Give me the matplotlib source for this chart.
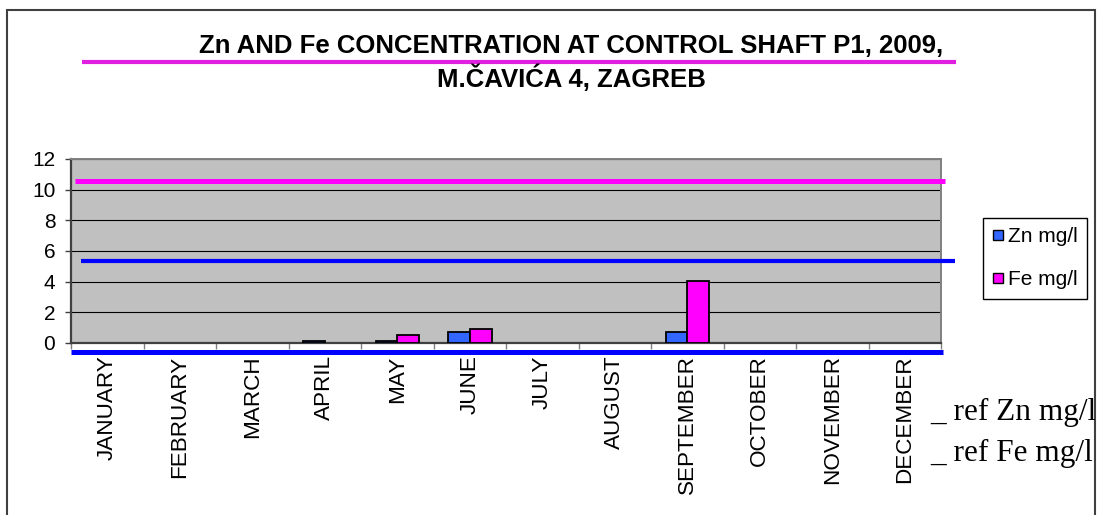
import matplotlib
matplotlib.use('Agg')
import matplotlib.pyplot as plt
from matplotlib.lines import Line2D
from matplotlib.patches import Rectangle
from matplotlib.transforms import Bbox, TransformedBbox
import numpy as np

# ---- data ----
months = ['JANUARY', 'FEBRUARY', 'MARCH', 'APRIL', 'MAY', 'JUNE', 'JULY',
          'AUGUST', 'SEPTEMBER', 'OCTOBER', 'NOVEMBER', 'DECEMBER']
zn = [0, 0, 0, 0.1, 0.1, 0.75, 0, 0, 0.75, 0, 0, 0]
fe = [0, 0, 0, 0, 0.55, 0.9, 0, 0, 4.05, 0, 0, 0]
ref_zn = 5.37
ref_fe = 10.55
y_ticks = [0, 2, 4, 6, 8, 10, 12]
title1 = 'Zn AND Fe CONCENTRATION AT CONTROL SHAFT P1, 2009,'
title2 = 'M.ČAVIĆA 4, ZAGREB'
series_labels = ['Zn mg/l', 'Fe mg/l']
ref_labels = ['_ ref Zn mg/l', '_ ref Fe mg/l']

plt.rcParams['font.family'] = ['Liberation Sans', 'DejaVu Sans']

W, H = 1099, 515
fig = plt.figure(figsize=(W / 100, H / 100), dpi=100)
fig.patch.set_facecolor('white')

ax_l, ax_r, ax_t, ax_b = 71, 941, 159, 343
ax = fig.add_axes([ax_l / W, 1 - ax_b / H, (ax_r - ax_l) / W, (ax_b - ax_t) / H])
ax.set_facecolor('#C0C0C0')

x = np.arange(len(months))
zn_a = np.array(zn)
fe_a = np.array(fe)
bw = 0.3
mz = zn_a > 0
mf = fe_a > 0
ax.bar(x[mz] - bw / 2, zn_a[mz], bw, color='#3366FF', edgecolor='black', lw=1.3, zorder=3)
ax.bar(x[mf] + bw / 2, fe_a[mf], bw, color='#FF00FF', edgecolor='black', lw=1.3, zorder=3)

ax.set_xlim(-0.5, len(months) - 0.5)
ax.set_ylim(0, 12)
ax.set_yticks(y_ticks)
ax.yaxis.grid(True, color='black', lw=0.8)
ax.set_axisbelow(True)

# spines
ax.spines['left'].set_color('#404040')
ax.spines['left'].set_linewidth(1.6)
ax.spines['bottom'].set_color('#404040')
ax.spines['bottom'].set_linewidth(1.6)
ax.spines['top'].set_color('#808080')
ax.spines['top'].set_linewidth(1.4)
ax.spines['right'].set_color('#808080')
ax.spines['right'].set_linewidth(1.4)

ax.tick_params(axis='y', direction='out', length=4.3, width=1, color='#404040',
               pad=7, labelsize=15)
ax.set_xticks(np.arange(-0.5, len(months), 1))
ax.set_xticklabels([])
ax.tick_params(axis='x', which='major', direction='out', length=4.3, width=1,
               color='#808080')
ax.set_xticks(x, minor=True)
ax.set_xticklabels(months, minor=True, rotation=90, fontsize=16.2, va='top', ha='center')
ax.tick_params(axis='x', which='minor', length=0, pad=9)

# reference lines
ax.axhline(ref_fe, xmin=4 / 870, xmax=874 / 870, color='#FF00FF', lw=3.6,
           clip_on=False, zorder=4, solid_capstyle='butt')
ax.axhline(ref_zn, xmin=10 / 870, xmax=884 / 870, color='#0000FF', lw=3.0,
           clip_on=False, zorder=4, solid_capstyle='butt')
ax.plot([0, 872 / 870], [-8.5 / 184, -8.5 / 184], transform=ax.transAxes,
        color='#0000FF', lw=3.6, clip_on=False, solid_capstyle='butt', zorder=4)

# title
fig.text(571 / W, 1 - 53 / H, title1, ha='center', va='baseline',
         fontsize=18.5, fontweight='bold')
fig.text(571 / W, 1 - 87 / H, title2, ha='center', va='baseline',
         fontsize=18.5, fontweight='bold')
fig.add_artist(Line2D([82 / W, 956 / W], [1 - 62 / H, 1 - 62 / H], color='#E020E0',
                      lw=3, solid_capstyle='butt'))

# figure border
fig.add_artist(Rectangle((7 / W, -0.05), (1095 - 7) / W, (515 - 10) / H + 0.05,
                         transform=fig.transFigure, fill=False,
                         edgecolor='#404040', lw=1.5))

# legend
handles = [Line2D([], [], marker='s', linestyle='none', markersize=6.5,
                  markerfacecolor=c, markeredgecolor='black', markeredgewidth=1)
           for c in ['#3366FF', '#FF00FF']]
leg = fig.legend(handles, series_labels, loc='upper left',
                 bbox_to_anchor=(983 / W, 1 - 218 / H), borderaxespad=0,
                 fontsize=15, frameon=True, fancybox=False, framealpha=1,
                 edgecolor='black', handlelength=0.5, handletextpad=0.25,
                 borderpad=0.45, labelspacing=1.15)
leg.get_frame().set_linewidth(1.0)

# reference texts
clip = TransformedBbox(Bbox([[0, 0], [1095 / W, 1]]), fig.transFigure)
for lbl, yb in zip(ref_labels, [420, 461]):
    t = fig.text(930 / W, 1 - yb / H, lbl, family='Liberation Serif', fontsize=22.5,
                 va='baseline', ha='left')
    t.set_clip_on(True)
    t.set_clip_box(clip)

fig.savefig('out.png', dpi=100)
